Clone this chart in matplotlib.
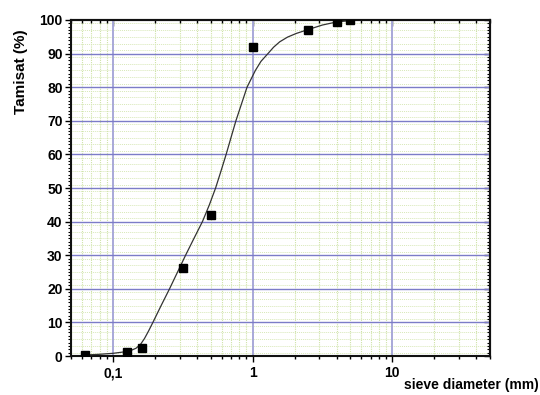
import numpy as np
import matplotlib
matplotlib.use("Agg")
import matplotlib.pyplot as plt
from matplotlib.ticker import FixedLocator, FixedFormatter, MultipleLocator, NullFormatter

plt.rcParams['font.family'] = ['Liberation Sans', 'DejaVu Sans']

# measured sieve data
sieve_mm = [0.063, 0.125, 0.16, 0.315, 0.5, 1.0, 2.5, 4.0, 5.0]
passing = [0.2, 1.3, 2.4, 26.3, 42.0, 92.0, 97.1, 99.5, 100.0]

# fitted curve
curve_x = [0.063, 0.0794, 0.1, 0.124, 0.135, 0.146, 0.157, 0.168, 0.18, 0.193,
           0.221, 0.254, 0.29, 0.331, 0.38, 0.437, 0.49, 0.543, 0.593, 0.646,
           0.70, 0.759, 0.832, 0.912, 1.047, 1.148, 1.288, 1.413, 1.563, 1.778,
           2.056, 2.518, 3.162, 3.981, 4.955]
curve_y = [0.3, 0.5, 0.8, 1.3, 1.7, 2.3, 3.4, 5.2, 7.5, 10,
           15, 20, 25, 30, 35, 40, 45, 50, 55, 60,
           65, 70, 75, 80, 85, 87.7, 90, 91.9, 93.5, 94.9,
           96, 97.2, 98.5, 99.4, 99.8]

x_ticks = [0.1, 1, 10]
x_ticklabels = ["0,1", "1", "10"]
y_ticks = list(range(0, 101, 10))

fig = plt.figure(figsize=(5.4, 3.95), dpi=100)
ax = fig.add_axes([0.1315, 0.0987, 0.7755, 0.8507])

ax.set_xscale("log")
ax.set_xlim(0.05, 50)
ax.set_ylim(0, 100)

minor_x = [m * d for d in (0.01, 0.1, 1, 10) for m in range(2, 10)]
ax.xaxis.set_major_locator(FixedLocator(x_ticks))
ax.xaxis.set_major_formatter(FixedFormatter(x_ticklabels))
ax.xaxis.set_minor_locator(FixedLocator(minor_x))
ax.xaxis.set_minor_formatter(NullFormatter())
ax.yaxis.set_major_locator(FixedLocator(y_ticks))
ax.yaxis.set_minor_locator(MultipleLocator(1))

# grids: dotted green minor, blue major
for v in minor_x:
    ax.axvline(v, color="#cfe3a8", lw=0.8, ls=(0, (1, 1)), zorder=0)
for v in np.arange(1, 100, 2):
    ax.axhline(v, color="#d8e8b8", lw=0.7, ls=(0, (1, 1)), zorder=0)
for v in x_ticks:
    ax.axvline(v, color="#a8a8d8", lw=1.4, zorder=1)
for v in y_ticks[1:-1]:
    ax.axhline(v, color="#7c7cc8", lw=1.0, zorder=1)

ax.plot(curve_x, curve_y, color="#333333", lw=0.9, zorder=3)
ax.plot(sieve_mm, passing, ls="none", marker="s", ms=6, color="black", zorder=4)

for s in ax.spines.values():
    s.set_linewidth(1.5)
    s.set_color("#111111")

# bottom / left ticks point outwards
ax.tick_params(which="both", labelsize=10)
ax.tick_params(axis="x", which="major", direction="out", length=4, width=1)
ax.tick_params(axis="x", which="minor", direction="out", length=2.5, width=1)
ax.tick_params(axis="y", which="major", direction="out", length=4, width=1, pad=2)
ax.tick_params(axis="y", which="minor", direction="out", length=2, width=0.8)
for lab in ax.get_xticklabels() + ax.get_yticklabels():
    lab.set_fontweight("bold")

# top / right ticks point inwards
top = ax.secondary_xaxis("top")
top.xaxis.set_major_locator(FixedLocator(x_ticks))
top.xaxis.set_minor_locator(FixedLocator(minor_x))
top.xaxis.set_major_formatter(NullFormatter())
top.xaxis.set_minor_formatter(NullFormatter())
top.tick_params(which="major", direction="in", length=4, width=1)
top.tick_params(which="minor", direction="in", length=2.5, width=1)
right = ax.secondary_yaxis("right")
right.yaxis.set_major_locator(FixedLocator(y_ticks))
right.yaxis.set_minor_locator(MultipleLocator(1))
right.yaxis.set_major_formatter(NullFormatter())
right.tick_params(which="major", direction="in", length=4, width=1)
right.tick_params(which="minor", direction="in", length=2, width=0.8)
for sec in (top, right):
    for s in sec.spines.values():
        s.set_linewidth(1.5)
        s.set_color("#111111")

fig.text(0.038, 0.818, "Tamisat (%)", rotation=90, ha="center", va="center",
         fontsize=11, fontweight="bold")
fig.text(0.997, 0.008, "sieve diameter (mm)", ha="right", va="bottom",
         fontsize=10, fontweight="bold")

fig.savefig("out.png", dpi=100)
